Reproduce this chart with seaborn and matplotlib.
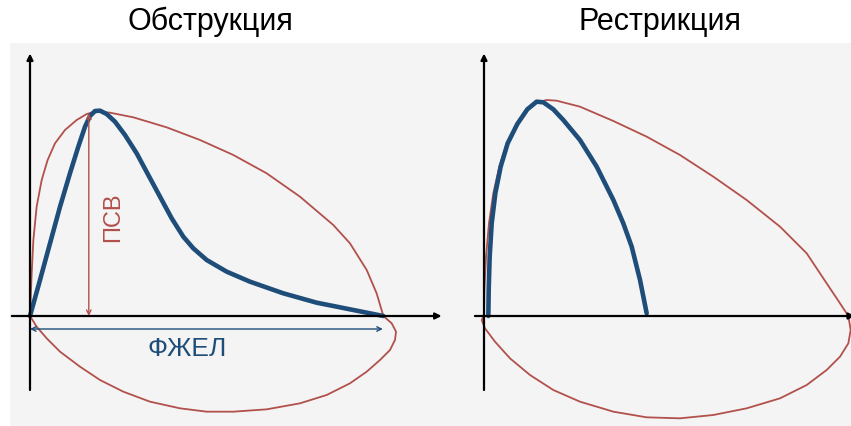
import matplotlib
matplotlib.use("Agg")
import matplotlib.pyplot as plt
import seaborn as sns

sns.set_style("white")
plt.rcParams['font.family'] = ['Liberation Sans', 'DejaVu Sans']

# Flow-volume loops (volume in L, flow in L/s)
titles = ["Обструкция", "Рестрикция"]

# obstruction: normal loop (red) and obstructive expiratory curve (blue)
obs_norm_vol = [0, 0.024, 0.048, 0.095, 0.167, 0.252, 0.357, 0.50, 0.667, 0.810, 0.929,
                1.143, 1.476, 1.952, 2.429, 2.905, 3.381, 3.857, 4.333, 4.571, 4.810, 4.952,
                5.048, 5.167, 5.229, 5.214, 5.143, 5.0, 4.810, 4.571, 4.238, 3.857, 3.381,
                2.905, 2.524, 2.143, 1.714, 1.333, 1.0, 0.714, 0.429, 0.238, 0.095, 0]
obs_norm_flow = [0, 1.707, 3.04, 4.373, 5.44, 6.24, 6.907, 7.44, 7.84, 8.08, 8.173,
                 8.133, 7.947, 7.547, 7.04, 6.44, 5.707, 4.773, 3.64, 2.907, 1.84, 0.907,
                 0, -0.293, -0.627, -0.96, -1.36, -1.76, -2.227, -2.693, -3.16, -3.493, -3.733,
                 -3.827, -3.827, -3.693, -3.427, -3.027, -2.56, -2.027, -1.427, -0.893, -0.427, 0]
obs_vol = [0, 0.143, 0.286, 0.429, 0.571, 0.690, 0.786, 0.857, 0.929, 1.0, 1.095, 1.214,
           1.357, 1.524, 1.690, 1.857, 2.024, 2.190, 2.333, 2.524, 2.810, 3.143, 3.619,
           4.095, 4.571, 5.048]
obs_flow = [0, 1.44, 2.907, 4.373, 5.707, 6.773, 7.573, 8.0, 8.2, 8.213, 8.08, 7.773,
            7.24, 6.507, 5.64, 4.773, 3.907, 3.173, 2.707, 2.24, 1.773, 1.373, 0.907,
            0.533, 0.267, 0]

# restriction: normal loop (red) and restrictive expiratory curve (blue)
res_norm_vol = [0, 0.005, 0.029, 0.071, 0.133, 0.219, 0.324, 0.457, 0.610, 0.752, 0.895,
                1.038, 1.371, 1.848, 2.324, 2.8, 3.276, 3.752, 4.229, 4.610, 4.895, 5.086,
                5.205, 5.238, 5.205, 5.086, 4.895, 4.610, 4.229, 3.752, 3.276, 2.8, 2.324,
                1.848, 1.371, 0.990, 0.657, 0.371, 0.157, 0.014, -0.033, 0]
res_norm_flow = [0, 1.04, 2.373, 3.707, 4.907, 5.973, 6.907, 7.64, 8.213, 8.533, 8.64,
                 8.613, 8.373, 7.8, 7.173, 6.44, 5.573, 4.64, 3.573, 2.507, 1.307, 0.507,
                 0, -0.56, -1.093, -1.627, -2.16, -2.76, -3.293, -3.693, -3.96, -4.093, -4.053,
                 -3.827, -3.427, -2.96, -2.36, -1.693, -1.027, -0.493, -0.16, 0]
res_vol = [0.062, 0.067, 0.081, 0.110, 0.162, 0.238, 0.338, 0.476, 0.619, 0.752, 0.848,
           0.990, 1.133, 1.371, 1.610, 1.848, 1.990, 2.110, 2.229, 2.324]
res_flow = [0, 1.04, 2.373, 3.707, 4.907, 5.973, 6.907, 7.68, 8.267, 8.573, 8.547,
            8.267, 7.84, 7.04, 5.973, 4.64, 3.707, 2.773, 1.44, 0.107]

pef = 8.1     # ПСВ
fvc = 5.04    # ФЖЕЛ

red = "#b2504b"
blue = "#1f4d7a"
bg = "#f4f4f4"

fig = plt.figure(figsize=(8.51, 4.26), dpi=100)
fig.patch.set_facecolor("white")

W, H = 851.0, 426.0
back = fig.add_axes([10 / W, 0, 841 / W, 383 / H])
back.set_facecolor(bg)
back.set_xticks([])
back.set_yticks([])
for s in back.spines.values():
    s.set_visible(False)

ax1 = fig.add_axes([10 / W, 0, 430 / W, 383 / H])
ax2 = fig.add_axes([440 / W, 0, 411 / W, 383 / H])
ax1.set_xlim(-20 / 70, 410 / 70)
ax2.set_xlim(-44 / 70, 367 / 70)
for ax in (ax1, ax2):
    ax.set_ylim(-4.4, 10.92)
    ax.set_facecolor("none")
    ax.set_axis_off()

axis_kw = dict(arrowstyle="-|>", color="black", lw=1.6, mutation_scale=9,
               shrinkA=0, shrinkB=0)
dbl = dict(arrowstyle="<->", lw=1.0, mutation_scale=8, shrinkA=0, shrinkB=0)

# obstruction panel
ax1.annotate("", xy=(0, 10.5), xytext=(0, -2.96), arrowprops=axis_kw, annotation_clip=False)
ax1.annotate("", xy=(5.88, 0), xytext=(-0.26, 0), arrowprops=axis_kw, annotation_clip=False)
sns.lineplot(x=obs_norm_vol, y=obs_norm_flow, sort=False, estimator=None, ax=ax1,
             color=red, lw=1.3)
sns.lineplot(x=obs_vol, y=obs_flow, sort=False, estimator=None, ax=ax1,
             color=blue, lw=3.3, solid_joinstyle="round")
ax1.annotate("", xy=(0.84, pef), xytext=(0.84, 0), arrowprops=dict(dbl, color=red),
             annotation_clip=False)
ax1.annotate("", xy=(fvc, -0.52), xytext=(0, -0.52), arrowprops=dict(dbl, color=blue),
             annotation_clip=False)
ax1.text(1.19, 3.96, "ПСВ", color=red, fontsize=17, rotation=90, ha="center", va="center")
ax1.text(2.24, -1.30, "ФЖЕЛ", color=blue, fontsize=19, ha="center", va="center")

# restriction panel
ax2.annotate("", xy=(0, 10.5), xytext=(0, -2.96), arrowprops=axis_kw, annotation_clip=False)
ax2.annotate("", xy=(5.30, 0), xytext=(-0.13, 0), arrowprops=axis_kw, annotation_clip=False)
sns.lineplot(x=res_norm_vol, y=res_norm_flow, sort=False, estimator=None, ax=ax2,
             color=red, lw=1.3)
sns.lineplot(x=res_vol, y=res_flow, sort=False, estimator=None, ax=ax2,
             color=blue, lw=3.3, solid_joinstyle="round")

fig.text(210 / W, 1 - 22 / H, titles[0], fontsize=22, color="black", ha="center", va="center")
fig.text(660 / W, 1 - 22 / H, titles[1], fontsize=22, color="black", ha="center", va="center")

fig.savefig("out.png", dpi=100)
